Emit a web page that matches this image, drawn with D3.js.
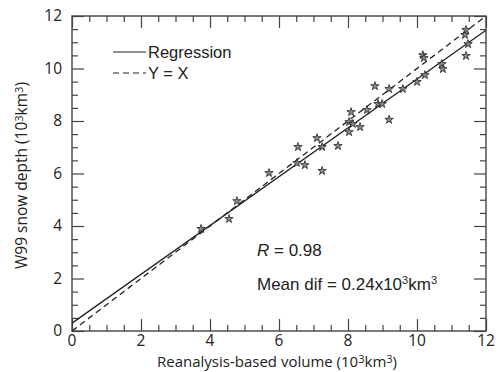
<!DOCTYPE html>
<html>
<head>
<meta charset="utf-8">
<script src="https://cdn.jsdelivr.net/npm/d3@7"></script>
<style>
  body { margin: 0; background: #fff; }
  svg text { fill: #222; }
</style>
</head>
<body>
<div id="chart"></div>
<script>
// Reanalysis-based volume (x) vs W99 snow depth (y), 10^3 km^3
const xValues = [3.74, 4.55, 4.78, 5.71, 6.52, 6.55, 6.75, 7.10, 7.25, 7.25, 7.71,
  8.03, 8.03, 8.09, 8.14, 8.35, 8.55, 8.78, 8.87, 8.99, 9.19, 9.19, 9.59, 10.0,
  10.17, 10.2, 10.23, 10.72, 10.75, 11.39, 11.42, 11.48, 11.42];
const yValues = [3.89, 4.27, 4.95, 6.02, 6.40, 7.01, 6.32, 7.35, 7.01, 6.10, 7.05,
  7.58, 7.96, 8.34, 7.89, 7.77, 8.42, 9.33, 8.65, 8.65, 9.22, 8.05, 9.22, 9.49,
  10.51, 10.4, 9.75, 10.17, 9.98, 11.28, 11.47, 10.93, 10.48];
const xTicks = [0, 2, 4, 6, 8, 10, 12];
const yTicks = [0, 2, 4, 6, 8, 10, 12];
const regression = { intercept: 0.3, slope: 0.93 };

const width = 503, height = 372;
const margin = { top: 16, right: 17, bottom: 41, left: 72 };
const w = width - margin.left - margin.right;
const h = height - margin.top - margin.bottom;

const svg = d3.select('#chart').append('svg')
  .attr('width', width)
  .attr('height', height);

const x = d3.scaleLinear().domain([0, 12]).range([0, w]);
const y = d3.scaleLinear().domain([0, 12]).range([h, 0]);

const g = svg.append('g')
  .attr('transform', `translate(${margin.left},${margin.top})`);

// Frame with inward ticks on all four sides
const axisColor = '#444';
const minor = d3.range(0, 12.01, 0.5);
function styleAxis(sel) {
  sel.select('.domain').remove();
  sel.selectAll('line').attr('stroke', axisColor).attr('stroke-width', 1.2);
}
const major = v => Math.abs(v % 2) < 1e-6;

g.append('g').attr('transform', `translate(0,${h})`)
  .call(d3.axisBottom(x).tickValues(minor).tickSizeOuter(0).tickFormat(''))
  .call(styleAxis)
  .selectAll('.tick line').attr('y2', d => major(d) ? -12 : -6);
g.append('g')
  .call(d3.axisTop(x).tickValues(minor).tickSizeOuter(0).tickFormat(''))
  .call(styleAxis)
  .selectAll('.tick line').attr('y2', d => major(d) ? 12 : 6);
g.append('g')
  .call(d3.axisLeft(y).tickValues(minor).tickSizeOuter(0).tickFormat(''))
  .call(styleAxis)
  .selectAll('.tick line').attr('x2', d => major(d) ? 12 : 6);
g.append('g').attr('transform', `translate(${w},0)`)
  .call(d3.axisRight(y).tickValues(minor).tickSizeOuter(0).tickFormat(''))
  .call(styleAxis)
  .selectAll('.tick line').attr('x2', d => major(d) ? -12 : -6);

g.append('rect')
  .attr('width', w).attr('height', h)
  .attr('fill', 'none')
  .attr('stroke', axisColor)
  .attr('stroke-width', 1.4);

// Tick labels
const tickFont = '"Open Sans", sans-serif';
g.selectAll('.xlab').data(xTicks).enter().append('text')
  .attr('x', d => x(d))
  .attr('y', h + 15)
  .attr('text-anchor', 'middle')
  .style('font-family', tickFont)
  .style('font-size', '15.5px')
  .text(d => d);
g.selectAll('.ylab').data(yTicks).enter().append('text')
  .attr('x', -10)
  .attr('y', d => y(d) + 5)
  .attr('text-anchor', 'end')
  .style('font-family', tickFont)
  .style('font-size', '15.5px')
  .text(d => d);

// Axis titles
function addTitle(sel, label) {
  sel.append('tspan').text(label + ' (10');
  sel.append('tspan').attr('dy', -4).style('font-size', '11px').text('3');
  sel.append('tspan').attr('dy', 4).text('km');
  sel.append('tspan').attr('dy', -4).style('font-size', '11px').text('3');
  sel.append('tspan').attr('dy', 4).text(')');
}
svg.append('text')
  .attr('x', margin.left + w / 2 - 2)
  .attr('y', height - 5)
  .attr('text-anchor', 'middle')
  .style('font-family', tickFont)
  .style('font-size', '15px')
  .call(addTitle, 'Reanalysis-based volume');

svg.append('text')
  .attr('transform', `translate(27,${margin.top + h / 2 + 2}) rotate(-90)`)
  .attr('text-anchor', 'middle')
  .style('font-family', tickFont)
  .style('font-size', '15.5px')
  .call(addTitle, 'W99 snow depth');

// Clip lines to the plot area
svg.append('defs').append('clipPath').attr('id', 'plot-clip')
  .append('rect').attr('width', w).attr('height', h);

const lines = g.append('g').attr('clip-path', 'url(#plot-clip)');
lines.append('line')
  .attr('x1', x(0)).attr('y1', y(0))
  .attr('x2', x(12)).attr('y2', y(12))
  .attr('stroke', '#222').attr('stroke-width', 1.3)
  .attr('stroke-dasharray', '6,4');
lines.append('line')
  .attr('x1', x(0)).attr('y1', y(regression.intercept))
  .attr('x2', x(12)).attr('y2', y(regression.intercept + regression.slope * 12))
  .attr('stroke', '#222').attr('stroke-width', 1.3);

// Star markers
const star = d3.symbol().type(d3.symbolStar).size(22);
g.selectAll('.pt').data(xValues.map((v, i) => [v, yValues[i]])).enter()
  .append('path')
  .attr('d', star)
  .attr('transform', d => `translate(${x(d[0])},${y(d[1])})`)
  .attr('fill', '#888')
  .attr('stroke', '#222')
  .attr('stroke-width', 0.8);

// Legend
const labelFont = '"Liberation Sans", Arial, sans-serif';
const legend = [
  { name: 'Regression', dash: null, ly: 52 },
  { name: 'Y = X', dash: '6,4', ly: 73 }
];
legend.forEach(l => {
  svg.append('line')
    .attr('x1', 113).attr('x2', 146)
    .attr('y1', l.ly).attr('y2', l.ly)
    .attr('stroke', '#222').attr('stroke-width', 1.1)
    .attr('stroke-dasharray', l.dash);
  svg.append('text')
    .attr('x', 148).attr('y', l.ly + 6)
    .style('font-family', labelFont)
    .style('font-size', '16.5px')
    .text(l.name);
});

// Annotations
const r = svg.append('text')
  .attr('x', 257).attr('y', 256)
  .style('font-family', labelFont)
  .style('font-size', '17px');
r.append('tspan').style('font-style', 'italic').text('R');
r.append('tspan').text(' = 0.98');

const md = svg.append('text')
  .attr('x', 257).attr('y', 290)
  .style('font-family', labelFont)
  .style('font-size', '17px');
md.append('tspan').text('Mean dif = 0.24x10');
md.append('tspan').attr('dy', -6).style('font-size', '11px').text('3');
md.append('tspan').attr('dy', 6).text('km');
md.append('tspan').attr('dy', -6).style('font-size', '11px').text('3');
</script>
</body>
</html>
